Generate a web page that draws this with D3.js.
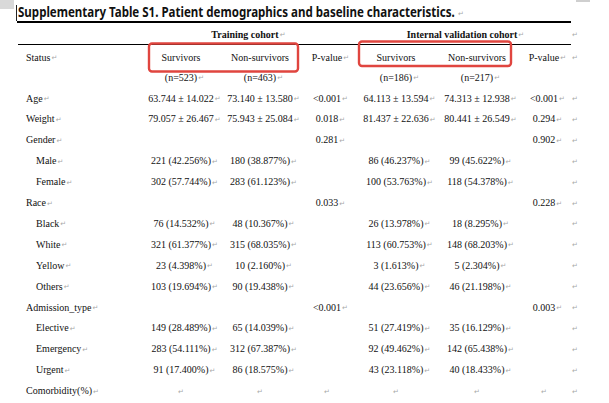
<!DOCTYPE html>
<html>
<head>
<meta charset="utf-8">
<script src="https://cdn.jsdelivr.net/npm/d3@7"></script>
<style>
  html, body { margin: 0; padding: 0; background: #fff; }
  svg { display: block; }
</style>
</head>
<body>
<svg id="table" width="609" height="403"></svg>
<script>
// Table content
var title = "Supplementary Table S1. Patient demographics and baseline characteristics.";
var cohorts = ["Training cohort", "Internal validation cohort"];
var columns = ["trS", "trN", "trP", "vaS", "vaN", "vaP"];
var colHeads = ["Survivors", "Non-survivors", "P-value", "Survivors", "Non-survivors", "P-value"];
var colCounts = ["(n=523)", "(n=463)", null, "(n=186)", "(n=217)", null];

var rowLabels = ["Age", "Weight", "Gender", "Male", "Female", "Race", "Black", "White",
    "Yellow", "Others", "Admission_type", "Elective", "Emergency", "Urgent", "Comorbidity(%)"];
var rowIndent = [0, 0, 0, 1, 1, 0, 1, 1, 1, 1, 0, 1, 1, 1, 0];

// null = nothing in the cell, "" = empty paragraph (mark only)
var trainSurv = ["63.744 ± 14.022", "79.057 ± 26.467", null, "221 (42.256%)", "302 (57.744%)", null,
    "76 (14.532%)", "321 (61.377%)", "23 (4.398%)", "103 (19.694%)", null,
    "149 (28.489%)", "283 (54.111%)", "91 (17.400%)", ""];
var trainNon = ["73.140 ± 13.580", "75.943 ± 25.084", null, "180 (38.877%)", "283 (61.123%)", null,
    "48 (10.367%)", "315 (68.035%)", "10 (2.160%)", "90 (19.438%)", null,
    "65 (14.039%)", "312 (67.387%)", "86 (18.575%)", ""];
var trainP = ["<0.001", "0.018", "0.281", null, null, "0.033", null, null, null, null,
    "<0.001", null, null, null, ""];
var validSurv = ["64.113 ± 13.594", "81.437 ± 22.636", null, "86 (46.237%)", "100 (53.763%)", null,
    "26 (13.978%)", "113 (60.753%)", "3 (1.613%)", "44 (23.656%)", null,
    "51 (27.419%)", "92 (49.462%)", "43 (23.118%)", ""];
var validNon = ["74.313 ± 12.938", "80.441 ± 26.549", null, "99 (45.622%)", "118 (54.378%)", null,
    "18 (8.295%)", "148 (68.203%)", "5 (2.304%)", "46 (21.198%)", null,
    "35 (16.129%)", "142 (65.438%)", "40 (18.433%)", ""];
var validP = ["<0.001", "0.294", "0.902", null, null, "0.228", null, null, null, null,
    "0.003", null, null, null, ""];

var series = [trainSurv, trainNon, trainP, validSurv, validNon, validP];

var svg = d3.select("#table");
var serif = "'Liberation Serif', 'Times New Roman', serif";
var MARK = "\u21B5";

// Scales for the layout
var x = d3.scaleOrdinal().domain(columns).range([181, 260, 327, 396, 477, 544]);
var y = d3.scalePoint().domain(rowLabels).range([98, 390.6]);
var cohortX = d3.scaleOrdinal().domain(cohorts).range([245, 462]);
var rowEndX = 575;

// Word paragraph mark, drawn just after a text node
function addMark(textSel, anchor) {
    var node = textSel.node();
    var w = node.getComputedTextLength();
    var tx = +textSel.attr("x");
    var mx = anchor === "middle" ? tx + w / 2 + 1 : tx + w + 1;
    if (!textSel.text()) mx = tx - 3;
    svg.append("text")
        .attr("class", "mark")
        .attr("x", mx)
        .attr("y", +textSel.attr("y") - 0.5)
        .style("font-family", "'DejaVu Sans', sans-serif")
        .style("font-size", "7px")
        .style("fill", "#a8a8a8")
        .text(MARK);
}

function cell(tx, ty, str, opts) {
    opts = opts || {};
    var anchor = opts.anchor || "middle";
    var t = svg.append("text")
        .attr("x", tx)
        .attr("y", ty)
        .attr("text-anchor", anchor)
        .style("font-family", serif)
        .style("font-size", "10px")
        .style("font-weight", opts.bold ? "bold" : "normal")
        .style("fill", "#111")
        .text(str);
    if (opts.mark !== false) addMark(t, anchor);
    return t;
}

// Word margin decorations
svg.append("rect").attr("x", 0).attr("y", 0).attr("width", 14).attr("height", 9).attr("fill", "#d9d9d9");
svg.append("rect").attr("x", 576).attr("y", 0).attr("width", 14).attr("height", 2).attr("fill", "#cfcfcf");
svg.append("line").attr("x1", 16.5).attr("x2", 16.5).attr("y1", 5).attr("y2", 21)
    .attr("stroke", "#222").attr("stroke-width", 1);

// Title: squeezed horizontally to the width it has in the reference
var titleWidth = 437;
var titleSel = svg.append("text")
    .attr("x", 0)
    .attr("y", 0)
    .style("font-family", "'Noto Sans', 'DejaVu Sans', sans-serif")
    .style("font-size", "14.5px")
    .style("font-weight", "bold")
    .style("fill", "#111")
    .text(title);
var natural = titleSel.node().getComputedTextLength();
titleSel.attr("transform", "translate(18,17) scale(" + (titleWidth / natural) + ",1)");
svg.append("text")
    .attr("x", 18 + titleWidth + 3)
    .attr("y", 16)
    .style("font-family", "'DejaVu Sans', sans-serif")
    .style("font-size", "7px")
    .style("fill", "#a8a8a8")
    .text(MARK);

// Table rules
svg.append("line").attr("x1", 17).attr("x2", 571).attr("y1", 22).attr("y2", 22)
    .attr("stroke", "#000").attr("stroke-width", 2.2);
svg.append("line").attr("x1", 18).attr("x2", 571).attr("y1", 44.5).attr("y2", 44.5)
    .attr("stroke", "#000").attr("stroke-width", 1);

// Cohort headers
cohorts.forEach(function (c) {
    cell(cohortX(c), 37.5, c, { bold: true });
});
cell(rowEndX, 37.5, "", { anchor: "start" });

// Column headers
cell(26, 60.5, "Status", { anchor: "start" });
columns.forEach(function (k, i) {
    cell(x(k), 60.5, colHeads[i], { mark: colHeads[i] === "P-value" });
    if (colCounts[i]) cell(x(k), 80.5, colCounts[i]);
});
cell(rowEndX, 60.5, "", { anchor: "start" });

// Body rows
rowLabels.forEach(function (label, r) {
    var ty = y(label) + 3.5;
    cell(rowIndent[r] ? 36 : 26, ty, label, { anchor: "start" });
    columns.forEach(function (k, c) {
        var v = series[c][r];
        if (v !== null) cell(x(k), ty, v);
    });
    cell(rowEndX, ty, "", { anchor: "start" });
});

// Highlight boxes round the survivor headers
var boxes = [
    { x0: 149, x1: 298, y0: 43.5, y1: 71.5 },
    { x0: 359, x1: 511, y0: 41.5, y1: 66 }
];
svg.selectAll("rect.hl")
    .data(boxes)
    .enter()
    .append("rect")
    .attr("class", "hl")
    .attr("x", function (d) { return d.x0; })
    .attr("y", function (d) { return d.y0; })
    .attr("width", function (d) { return d.x1 - d.x0; })
    .attr("height", function (d) { return d.y1 - d.y0; })
    .attr("rx", 3)
    .attr("fill", "none")
    .attr("stroke", "#e0453f")
    .attr("stroke-width", 2.4);
</script>
</body>
</html>
